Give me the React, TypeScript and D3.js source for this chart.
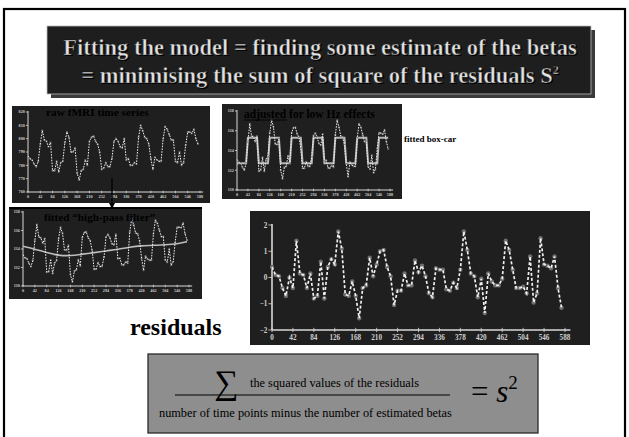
import React from "react";
import * as d3 from "d3";

// ---------- data ----------
const xTickLabels = [0, 42, 84, 126, 168, 210, 252, 294, 336, 378, 420, 462, 504, 546, 588];
const scanStep = 7; // seconds between scans

const rawSeries = [787, 785, 784, 781, 779, 783, 796, 806, 799, 798, 794, 797, 776, 776, 783, 775, 782, 783, 797, 805, 801, 790, 790, 793, 774, 769, 776, 777, 784, 780, 798, 801, 802, 798, 796, 790, 777, 778, 782, 779, 779, 785, 798, 800, 798, 794, 793, 800, 784, 785, 780, 780, 782, 781, 801, 810, 806, 801, 800, 796, 785, 777, 786, 784, 783, 783, 800, 809, 807, 803, 799, 799, 783, 782, 790, 780, 782, 795, 805, 805, 804, 807, 800, 796];
const rawTicks = [760, 770, 780, 790, 800, 810, 820];

const adjustedSeries = [113.1, 112.8, 112.75, 112.3, 112.0, 112.7, 114.9, 116.7, 115.45, 115.4, 114.9, 115.45, 111.9, 112.0, 113.3, 111.9, 113.1, 113.4, 115.8, 117.05, 116.4, 114.65, 114.6, 115.15, 112.0, 111.15, 112.3, 112.4, 113.45, 112.75, 115.8, 116.3, 116.35, 115.7, 115.35, 114.25, 112.2, 112.2, 112.85, 112.4, 112.4, 113.35, 115.5, 115.75, 115.35, 114.7, 114.55, 115.65, 113.0, 113.0, 112.25, 112.2, 112.5, 112.3, 115.6, 117.05, 116.35, 115.45, 115.35, 114.55, 112.65, 111.35, 112.85, 112.55, 112.4, 112.4, 115.25, 116.7, 116.35, 115.6, 114.9, 114.9, 112.35, 112.1, 113.5, 111.75, 112.1, 114.2, 115.8, 115.75, 115.65, 116.1, 114.9, 114.15];
const boxcarBlocks = [112.7, 115.3, 112.7, 115.3, 112.7, 115.3, 112.7, 115.3, 112.7, 115.3, 112.7, 115.3, 112.7, 115.3];
const scansPerBlock = 6;
const smallTicks = [110, 112, 114, 116, 118];

const highPassSeries = [113.4, 113.05, 112.95, 112.45, 112.1, 112.75, 114.9, 116.63, 115.32, 115.2, 114.63, 115.12, 111.5, 111.55, 112.8, 111.35, 112.5, 112.75, 115.1, 116.34, 115.68, 113.92, 113.86, 114.4, 111.25, 110.43, 111.62, 111.75, 112.83, 112.17, 115.25, 115.78, 115.85, 115.22, 114.9, 113.83, 111.8, 111.83, 112.52, 112.1, 112.13, 113.12, 115.3, 115.58, 115.2, 114.58, 114.45, 115.58, 112.95, 113.0, 112.29, 112.28, 112.62, 112.46, 115.8, 117.28, 116.6, 115.73, 115.65, 114.88, 113.0, 111.71, 113.22, 112.93, 112.79, 112.8, 115.65, 117.11, 116.77, 116.03, 115.34, 115.35, 112.8, 112.57, 113.98, 112.25, 112.62, 114.73, 116.35, 116.35, 116.3, 116.8, 115.65, 114.95];
const driftTimes = [0, 42, 84, 126, 168, 210, 252, 294, 336, 378, 420, 462, 504, 546, 581];
const driftValues = [114.3, 114.0, 113.6, 113.3, 113.25, 113.45, 113.6, 113.8, 113.95, 114.2, 114.35, 114.4, 114.45, 114.55, 114.8];

const residualSeries = [0.4, 0.1, 0.05, -0.4, -0.7, 0, -0.4, 1.4, 0.15, 0.1, -0.4, 0.15, -0.8, -0.7, 0.6, -0.8, 0.4, 0.7, 0.5, 1.75, 1.1, -0.65, -0.7, -0.15, -0.7, -1.55, -0.4, -0.3, 0.75, 0.05, 0.5, 1.0, 1.05, 0.4, 0.05, -1.05, -0.5, -0.5, 0.15, -0.3, -0.3, 0.65, 0.2, 0.45, 0.05, -0.6, -0.75, 0.35, 0.3, 0.3, -0.45, -0.5, -0.2, -0.4, 0.3, 1.75, 1.05, 0.15, 0.05, -0.75, -0.05, -1.35, 0.15, -0.15, -0.3, -0.3, -0.05, 1.4, 1.05, 0.3, -0.4, -0.4, -0.35, -0.6, 0.8, -0.95, -0.6, 1.5, 0.5, 0.45, 0.35, 0.8, -0.4, -1.15];
const residualTicks = [-2, -1, 0, 1, 2];

const titleLine1 = "Fitting the model = finding some estimate of the betas";
const titleLine2 = "= minimising the sum of square of the residuals S";

const serif = "'Liberation Serif', 'Times New Roman', serif";

type Sc = d3.ScaleLinear<number, number>;
type PanelProps = {
  rect: [number, number, number, number];
  plot: [number, number, number, number]; // x0, x1, yTop, yBottom
  yDomain: [number, number];
  yTicks: number[];
  series: number[];
  fontSize: number;
  markerR: number;
  lineW: number;
  dash: string;
  tickFmt?: (v: number) => string;
  under?: (x: Sc, y: Sc) => React.ReactNode;
  overlay?: (x: Sc, y: Sc) => React.ReactNode;
};

function Panel(p: PanelProps) {
  const [rx, ry, rw, rh] = p.rect;
  const [x0, x1, yT, yB] = p.plot;
  const x = d3.scaleLinear().domain([0, 588]).range([x0, x1]);
  const y = d3.scaleLinear().domain(p.yDomain).range([yB, yT]);
  const line = d3
    .line<number>()
    .x((_, i) => x(i * scanStep))
    .y((d) => y(d));
  const fmt = p.tickFmt || ((v: number) => String(v));
  const axisCol = "#d9d9d9";
  const big = p.fontSize > 6;
  const tl = p.fontSize * 0.5;
  return (
    <g>
      <rect x={rx} y={ry} width={rw} height={rh} fill="#1f1f1f" />
      {p.under && p.under(x, y)}
      <line x1={x0} x2={x0} y1={yT - 1} y2={yB} stroke={axisCol} strokeWidth={big ? 1.6 : 1} />
      <line x1={x0} x2={x(588) + tl * 1.5} y1={yB} y2={yB} stroke={axisCol} strokeWidth={big ? 1.6 : 1} />
      {p.yTicks.map((t) => (
        <g key={"y" + t}>
          <line x1={x0 - tl} x2={x0} y1={y(t)} y2={y(t)} stroke={axisCol} strokeWidth={0.8} />
          <text
            x={x0 - tl - 1}
            y={y(t)}
            dy="0.35em"
            textAnchor="end"
            fontSize={p.fontSize}
            fontWeight="bold"
            fontFamily={serif}
            fill="#d0d0d0"
          >
            {fmt(t)}
          </text>
        </g>
      ))}
      {xTickLabels.map((t) => (
        <g key={"x" + t}>
          <line x1={x(t)} x2={x(t)} y1={yB - tl * 0.6} y2={yB + tl * 0.6} stroke={axisCol} strokeWidth={0.8} />
          <text
            x={x(t)}
            y={yB + tl + p.fontSize * 0.85}
            textAnchor="middle"
            fontSize={p.fontSize}
            fontWeight="bold"
            fontFamily={serif}
            fill="#d0d0d0"
          >
            {t}
          </text>
        </g>
      ))}
      {p.overlay && p.overlay(x, y)}
      {p.series.map((d, i) => (
        <circle key={"m" + i} cx={x(i * scanStep)} cy={y(d)} r={p.markerR} fill="#6e6e6e" />
      ))}
      <path d={line(p.series) || ""} fill="none" stroke="#f0f0f0" strokeWidth={p.lineW} strokeDasharray={p.dash} />
    </g>
  );
}

export default function App() {
  const W = 629;
  const H = 437;
  const boxcarLine = (x: Sc, y: Sc) => {
    const vals = adjustedSeries.map((_, i) => boxcarBlocks[Math.floor(i / scansPerBlock)]);
    const l = d3
      .line<number>()
      .x((_, i) => x(i * scanStep))
      .y((d) => y(d));
    return <path d={l(vals) || ""} fill="none" stroke="#b8b8b8" strokeWidth={2} />;
  };
  const driftLine = (x: Sc, y: Sc) => {
    const l = d3
      .line<number>()
      .x((_, i) => x(driftTimes[i]))
      .y((d) => y(d))
      .curve(d3.curveBasis);
    return <path d={l(driftValues) || ""} fill="none" stroke="#bdbdbd" strokeWidth={1.6} />;
  };

  const titleStyle = {
    fontFamily: serif,
    fontWeight: "bold" as const,
    fontSize: 22.5,
  };

  return (
    <svg width={W} height={H} style={{ position: "absolute", left: 0, top: 0, background: "#fff" }}>
      {/* slide frame */}
      <rect x={4} y={9} width={621} height={H} fill="none" stroke="#000" strokeWidth={2.2} />

      {/* title box */}
      <rect x={51} y={30} width={544} height={68} fill="#3a3a3a" />
      <rect x={47} y={26} width={544} height={68} fill="#1e1e1e" stroke="#bbb" strokeWidth={0.8} />
      {[
        { t: titleLine1, y: 55 },
        { t: titleLine2, y: 83 },
      ].map((l, i) => (
        <g key={i}>
          <text x={320 + 1.3} y={l.y + 1.3} textAnchor="middle" {...titleStyle} fill="#000">
            {l.t}
            {i === 1 && (
              <tspan fontSize={12} dy={-9}>
                2
              </tspan>
            )}
          </text>
          <text x={320} y={l.y} textAnchor="middle" {...titleStyle} fill="#e2e2e2" stroke="#111" strokeWidth={0.5}>
            {l.t}
            {i === 1 && (
              <tspan fontSize={12} dy={-9}>
                2
              </tspan>
            )}
          </text>
        </g>
      ))}

      {/* raw fMRI panel */}
      <Panel
        rect={[12, 106, 198, 97]}
        plot={[28, 200, 112, 192]}
        yDomain={[760, 820]}
        yTicks={rawTicks}
        series={rawSeries}
        fontSize={4.2}
        markerR={1.1}
        lineW={1}
        dash="1.6 1.2"
      />
      <text x={46} y={116} fontFamily={serif} fontWeight="bold" fontSize={11.3} fill="#000">
        raw fMRI time series
      </text>

      {/* adjusted panel */}
      <Panel
        rect={[222, 104, 180, 95]}
        plot={[237, 390, 111, 190]}
        yDomain={[110, 118]}
        yTicks={smallTicks}
        series={adjustedSeries}
        fontSize={4.2}
        markerR={1.1}
        lineW={1}
        dash="1.6 1.2"
        under={boxcarLine}
      />
      <text x={244} y={118} fontFamily={serif} fontWeight="bold" fontSize={11.5} fill="#000">
        adjusted for low Hz effects
      </text>
      <line x1={244} x2={287} y1={120} y2={120} stroke="#000" strokeWidth={0.9} />
      <text x={404} y={142} fontFamily={serif} fontWeight="bold" fontSize={9} fill="#000">
        fitted box-car
      </text>

      {/* separator and arrow */}
      <line x1={10} x2={203} y1={205} y2={205} stroke="#fff" strokeWidth={1.5} />
      <Panel
        rect={[9, 207, 193, 92]}
        plot={[23, 189, 212, 286]}
        yDomain={[110, 118]}
        yTicks={smallTicks}
        series={highPassSeries}
        fontSize={4.2}
        markerR={1.1}
        lineW={1}
        dash="1.6 1.2"
        overlay={driftLine}
      />
      <rect x={9} y={207} width={193} height={2} fill="#000" />
      <line x1={112} x2={112} y1={178} y2={206} stroke="#000" strokeWidth={1.3} />
      <path d="M109,203 L112,209 L115,203 Z" fill="#000" />
      <text x={44} y={221} fontFamily={serif} fontWeight="bold" fontSize={11.2} fill="#000">
        fitted “high-pass filter”
      </text>

      {/* residuals panel */}
      <Panel
        rect={[250, 211, 340, 134]}
        plot={[272, 565, 225, 330]}
        yDomain={[-2, 2]}
        yTicks={residualTicks}
        series={residualSeries}
        fontSize={7.2}
        markerR={2.2}
        lineW={1.7}
        dash="3 2"
        tickFmt={(v) => (v < 0 ? "\u2212" + Math.abs(v) : String(v))}
      />
      <text x={130} y={335} fontFamily={serif} fontWeight="bold" fontSize={24} fill="#000">
        residuals
      </text>

      {/* formula box */}
      <rect x={148} y={354} width={390} height={79} fill="#8e8e8e" stroke="#2a2a2a" strokeWidth={1.3} />
      <text x={214} y={394} fontFamily={serif} fontSize={34} fill="#000">
        ∑
      </text>
      <text x={250} y={387} fontFamily={serif} fontSize={12.3} fill="#000">
        the squared values of the residuals
      </text>
      <line x1={175} x2={450} y1={395} y2={395} stroke="#000" strokeWidth={1} />
      <text x={159} y={417} fontFamily={serif} fontSize={12.3} fill="#000">
        number of time points minus the number of estimated betas
      </text>
      <text x={471} y={402} fontFamily={serif} fontSize={31} fill="#000">
        ={" "}
        <tspan fontStyle="italic">s</tspan>
        <tspan fontSize={19} dy={-13}>
          2
        </tspan>
      </text>
    </svg>
  );
}
